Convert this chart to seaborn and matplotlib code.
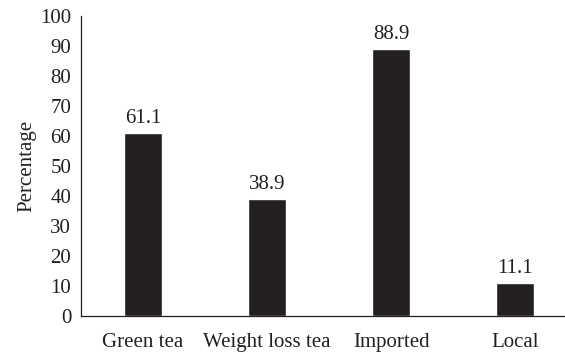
import matplotlib
matplotlib.use("Agg")
import matplotlib.pyplot as plt
import seaborn as sns
import pandas as pd

categories = ["Green tea", "Weight loss tea", "Imported", "Local"]
percentages = [61.1, 38.9, 88.9, 11.1]
yticks = [0, 10, 20, 30, 40, 50, 60, 70, 80, 90, 100]

sns.set_style("white")
plt.rcParams["font.family"] = ["Liberation Serif", "DejaVu Serif"]

df = pd.DataFrame({"category": categories, "percentage": percentages})

fig = plt.figure(figsize=(5.65, 3.53), dpi=100)
ax = fig.add_axes([0.1434, 0.1048, 0.878, 0.85])

sns.barplot(data=df, x="category", y="percentage", color="#231f20",
            width=0.31, saturation=1, ax=ax)

for patch, val in zip(ax.patches, percentages):
    ax.annotate(f"{val:.1f}", (patch.get_x() + patch.get_width() / 2, val),
                xytext=(0, 3.5), textcoords="offset points",
                ha="center", va="bottom", fontsize=15, color="#231f20")

ax.set_xlim(-0.5, 3.5)
ax.set_ylim(0, 100)
ax.set_yticks(yticks)
ax.set_yticklabels([str(t) for t in yticks])
ax.tick_params(axis="both", length=0, labelsize=15, colors="#231f20")
ax.tick_params(axis="x", pad=12)
ax.tick_params(axis="y", pad=7)
ax.set_xlabel("")
ax.set_ylabel("Percentage", fontsize=15, color="#231f20", labelpad=3)

for side in ["top", "right"]:
    ax.spines[side].set_visible(False)
for side in ["left", "bottom"]:
    ax.spines[side].set_color("#231f20")
    ax.spines[side].set_linewidth(0.9)

fig.savefig("out.png", dpi=100)
